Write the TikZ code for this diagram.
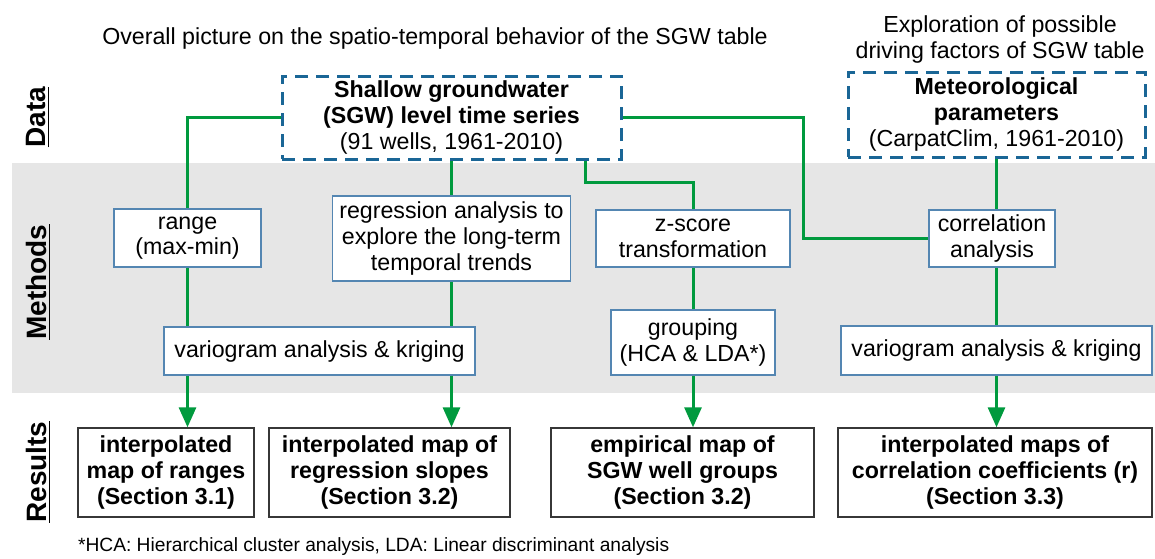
\documentclass[tikz,border=0pt]{standalone}
\usepackage{fontspec}
\setmainfont{Liberation Sans}
\usetikzlibrary{arrows.meta}

\definecolor{flowgreen}{RGB}{0,154,62}
\definecolor{datablue}{RGB}{26,102,150}
\definecolor{methblue}{RGB}{84,134,178}
\definecolor{resgray}{RGB}{55,55,55}
\definecolor{bandgray}{RGB}{230,230,230}

\tikzset{
    databox/.style={draw=datablue, line width=1.5pt, dash pattern=on 6.5pt off 4pt,
        align=center, inner sep=0pt},
    methbox/.style={draw=methblue, line width=0.9pt, fill=white, align=center, inner sep=0pt},
    resbox/.style={draw=resgray, line width=0.7pt, fill=white, align=center, inner sep=0pt,
        font=\fontsize{11.6}{13.2}\selectfont\bfseries},
    flow/.style={draw=flowgreen, line width=1.5pt},
    flowarrow/.style={flow, -{Triangle[width=8.5pt,length=10pt]}},
    sidelabel/.style={rotate=90, font=\fontsize{14}{16}\selectfont\bfseries},
}

\begin{document}
\begin{tikzpicture}[x=0.5pt, y=-0.5pt, font=\fontsize{11.6}{12.8}\selectfont]
    \useasboundingbox (0,0) rectangle (1155,558);
    \fill [bandgray] (12,163) rectangle (1155,393);

    \coordinate (zk) at (585,182);
    \coordinate (ck) at (803,117);

    \node [anchor=base] (title1) at (435,44)
        {Overall picture on the spatio-temporal behavior of the SGW table};
    \node [anchor=base, align=center] (title2) at (1000,58)
        {Exploration of possible\\driving factors of SGW table};

    \node [sidelabel] (ldata) at (38,117) {\underline{Data}};
    \node [sidelabel] (lmeth) at (38,282) {\underline{Methods}};
    \node [sidelabel] (lres) at (38,472) {\underline{Results}};

    \node [databox, minimum width=169.5pt, minimum height=41.5pt] (sgw) at (451.5,117.5)
        {\textbf{Shallow groundwater}\\\textbf{(SGW) level time series}\\(91 wells, 1961-2010)};
    \node [databox, minimum width=148.5pt, minimum height=42.5pt] (meteo) at (996.5,114.5)
        {\textbf{Meteorological}\\\textbf{parameters}\\(CarpatClim, 1961-2010)};

    \node [methbox, minimum width=73.5pt, minimum height=29pt] (range) at (187.5,238)
        {range\\(max-min)};
    \node [methbox, minimum width=119pt, minimum height=42.5pt] (regr) at (451.5,238.5)
        {regression analysis to\\explore the long-term\\temporal trends};
    \node [methbox, minimum width=97pt, minimum height=28.5pt] (zscore) at (693,238.5)
        {z-score\\transformation};
    \node [methbox, minimum width=63pt, minimum height=28.5pt] (corr) at (992,238.5)
        {correlation\\analysis};
    \node [methbox, minimum width=155.5pt, minimum height=24pt] (vario1) at (319.5,351)
        {variogram analysis \& kriging};
    \node [methbox, minimum width=82pt, minimum height=32.5pt] (group) at (693,342.5)
        {grouping\\(HCA \& LDA*)};
    \node [methbox, minimum width=155.5pt, minimum height=24.5pt] (vario2) at (996.5,350.5)
        {variogram analysis \& kriging};

    \node [resbox, minimum width=88pt, minimum height=44.5pt] (res1) at (166,472.5)
        {interpolated\\map of ranges\\(Section 3.1)};
    \node [resbox, minimum width=120.5pt, minimum height=44.5pt] (res2) at (389.5,472.5)
        {interpolated map of\\regression slopes\\(Section 3.2)};
    \node [resbox, minimum width=131.5pt, minimum height=44.5pt] (res3) at (682.5,472.5)
        {empirical map of\\SGW well groups\\(Section 3.2)};
    \node [resbox, minimum width=157pt, minimum height=44.5pt] (res4) at (995,472.5)
        {interpolated maps of\\correlation coefficients (r)\\(Section 3.3)};

    \node [anchor=base west, font=\fontsize{9.6}{11}\selectfont] (note) at (71,551)
        {*HCA: Hierarchical cluster analysis, LDA: Linear discriminant analysis};

    \draw [flow] (sgw.west) -| (range.north);
    \draw [flow] (range.south) -- (range |- vario1.north);
    \draw [flowarrow] (range |- vario1.south) -- (range |- res1.north);

    \draw [flow] (sgw.south -| regr) -- (regr.north);
    \draw [flow] (regr.south) -- (regr |- vario1.north);
    \draw [flowarrow] (regr |- vario1.south) -- (regr |- res2.north);

    \draw [flow] (sgw.south -| zk) -- (zk) -| (zscore.north);
    \draw [flow] (zscore.south) -- (group.north);
    \draw [flowarrow] (group.south) -- (group |- res3.north);

    \draw [flow] (sgw.east |- ck) -- (ck) |- (corr.west);
    \draw [flow] (meteo.south) -- (meteo |- corr.north);
    \draw [flow] (meteo |- corr.south) -- (vario2.north);
    \draw [flowarrow] (vario2.south) -- (vario2 |- res4.north);
  \end{tikzpicture}
\end{document}
